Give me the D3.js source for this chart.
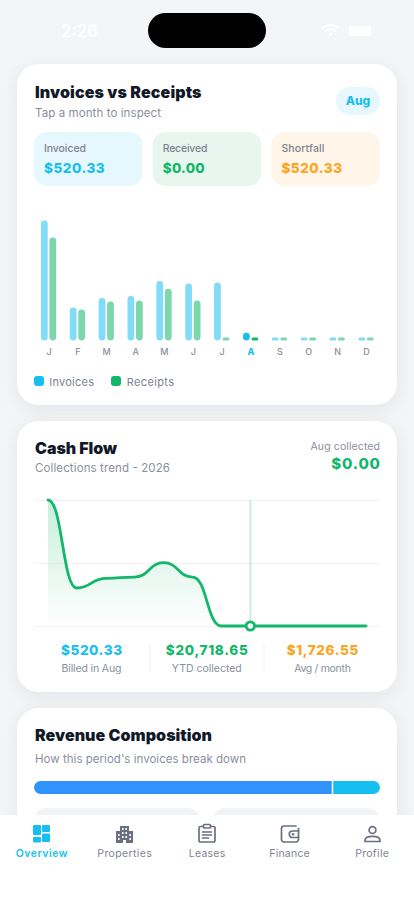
<!DOCTYPE html>
<html><head><meta charset="utf-8">
<script src="https://cdnjs.cloudflare.com/ajax/libs/d3/7.8.5/d3.min.js"></script>
<style>
html,body{margin:0;padding:0;background:#f4f5f7;overflow:hidden}
svg{display:block;font-family:Inter,"Noto Sans",sans-serif}
</style></head><body><svg id="c" width="414" height="900" viewBox="0 0 414 900"></svg>
<script>
const months = ["J","F","M","A","M","J","J","A","S","O","N","D"];
const invoices = [8155,2243,2888,3024,4044,3874,3942,520.33,0,0,0,0];
const receipts = [7000,2110,2650,2720,3520,2718.65,0,0,0,0,0,0];
const activeMonth = 7;
const kpiLabels = ["Invoiced","Received","Shortfall"];
const kpiValues = ["$520.33","$0.00","$520.33"];
const statValues = ["$520.33","$20,718.65","$1,726.55"];
const statLabels = ["Billed in Aug","YTD collected","Avg / month"];
const composition = [450,70.33];
const navLabels = ["Overview","Properties","Leases","Finance","Profile"];

const CYAN="#17bff0",GREEN="#12b76a",ORANGE="#fda41c",INK="#111827",MUTE="#8a8f9c";
const svg=d3.select("#c");
const defs=svg.append("defs");
const sh=defs.append("filter").attr("id","sh").attr("x","-20%").attr("y","-20%").attr("width","140%").attr("height","140%");
sh.append("feDropShadow").attr("dx",0).attr("dy",4).attr("stdDeviation",9).attr("flood-color","#1f2937").attr("flood-opacity",0.07);
const gr=defs.append("linearGradient").attr("id","ag").attr("x1",0).attr("y1",0).attr("x2",0).attr("y2",1);
gr.append("stop").attr("offset",0).attr("stop-color",GREEN).attr("stop-opacity",0.24);
gr.append("stop").attr("offset",1).attr("stop-color",GREEN).attr("stop-opacity",0);

function T(x,y,s,size,fill,weight,anchor,len){
  const t=svg.append("text").attr("x",x).attr("y",y).text(s).attr("font-size",size).attr("fill",fill)
    .attr("font-weight",weight||400).attr("text-anchor",anchor||"start");
  if(len) t.attr("textLength",len).attr("lengthAdjust","spacing");
  return t;
}
function card(y,h){svg.append("rect").attr("x",17).attr("y",y).attr("width",380).attr("height",h).attr("rx",22).attr("fill","#fff").attr("filter","url(#sh)");}

/* status bar */
T(61,37,"2:26",17,"#fff",500);
svg.append("rect").attr("x",148).attr("y",13).attr("width",118).attr("height",35).attr("rx",17.5).attr("fill","#000");
const wifi=svg.append("g").attr("fill","none").attr("stroke","#fff").attr("stroke-width",2);
wifi.append("path").attr("d","M322 28.5a12 12 0 0 1 17 0");
wifi.append("path").attr("d","M325 31.5a8 8 0 0 1 11 0");
svg.append("circle").attr("cx",330.5).attr("cy",34.5).attr("r",1.8).attr("fill","#fff");
svg.append("rect").attr("x",349).attr("y",26).attr("width",22).attr("height",10).attr("rx",3).attr("fill","#fff");

/* card 1 */
card(64,341);
T(35,97.5,"Invoices vs Receipts",16,INK,900,"start",166.5);
T(35,117,"Tap a month to inspect",11.5,MUTE,400,"start",126);
svg.append("rect").attr("x",336).attr("y",87).attr("width",44).attr("height",28).attr("rx",14).attr("fill","#e6f8fe");
T(358,105,"Aug",12,CYAN,800,"middle",24.5);
const kpiX=d3.scaleBand().domain(d3.range(3)).range([34,380]).paddingInner(0.085);
const kpiBg=["#e6f8fe","#e7f6ee","#fff6e9"],kpiFg=[CYAN,GREEN,ORANGE];
const kpiLabelW=[42,44.7,43],kpiValueW=[60.7,42,60.7];
kpiLabels.forEach((l,i)=>{
  const x=kpiX(i);
  svg.append("rect").attr("x",x).attr("y",132).attr("width",kpiX.bandwidth()).attr("height",54).attr("rx",13).attr("fill",kpiBg[i]);
  T(x+10,152,l,10.5,"#7d828e",500,"start",kpiLabelW[i]);
  T(x+10,172.5,kpiValues[i],13.5,kpiFg[i],800,"start",kpiValueW[i]);
});

const xM=d3.scalePoint().domain(d3.range(12)).range([48.5,366]);
const yB=d3.scaleLinear().domain([0,8155]).range([340.5,220.5]);
const barW=6.8,minH=3;
function bars(vals,color,off){
  svg.append("g").selectAll("rect").data(vals).join("rect")
    .attr("x",(d,i)=>xM(i)+off).attr("width",barW)
    .attr("y",d=>Math.min(yB(d),yB(0)-minH))
    .attr("height",d=>Math.max(yB(0)-yB(d),minH))
    .attr("rx",d=>Math.min(barW/2,Math.max(yB(0)-yB(d),minH)/2))
    .attr("fill",color).attr("opacity",(d,i)=>i===activeMonth?1:0.55);
}
bars(invoices,CYAN,-7.6);
bars(receipts,GREEN,0.9);
const mAxis=svg.append("g").attr("transform","translate(0,340.5)")
  .call(d3.axisBottom(xM).tickSize(0).tickPadding(8.5).tickFormat(i=>months[i]));
mAxis.select(".domain").remove();
mAxis.selectAll("text").attr("font-family","Inter").attr("font-size",9)
  .attr("fill",(i)=>i===activeMonth?CYAN:MUTE).attr("font-weight",(i)=>i===activeMonth?800:500);

[["Invoices",CYAN,34,49.3,44.7],["Receipts",GREEN,111,126.7,47.3]].forEach(([l,c,sx,tx,w])=>{
  svg.append("rect").attr("x",sx).attr("y",376).attr("width",10).attr("height",10).attr("rx",3).attr("fill",c);
  T(tx,385.5,l,11,"#7d828e",400,"start",w);
});

/* card 2 */
card(421,271);
T(35,454,"Cash Flow",16,INK,900,"start",82);
T(35,472,"Collections trend - 2026",11.5,MUTE,400,"start",135);
T(380,450,"Aug collected",10.5,MUTE,400,"end",69.5);
T(380,468.5,"$0.00",15,GREEN,800,"end",48.7);
const yL=d3.scaleLinear().domain([0,7000]).range([626,500]);
const xL=d3.scalePoint().domain(d3.range(12)).range([48,366]);
const gridAxis=svg.append("g").attr("transform","translate(34,0)")
  .call(d3.axisLeft(yL).tickValues([0,3500,7000]).tickSize(-346).tickFormat(""));
gridAxis.select(".domain").remove();
gridAxis.selectAll("line").attr("stroke","#f2f3f5").attr("stroke-width",1);
const area=d3.area().x((d,i)=>xL(i)).y0(yL(0)).y1(d=>yL(d)).curve(d3.curveBumpX);
const line=d3.line().x((d,i)=>xL(i)).y(d=>yL(d)).curve(d3.curveBumpX);
svg.append("path").datum(receipts).attr("d",area).attr("fill","url(#ag)");
svg.append("line").attr("x1",xL(activeMonth)).attr("x2",xL(activeMonth)).attr("y1",500).attr("y2",626)
  .attr("stroke",GREEN).attr("stroke-opacity",0.24).attr("stroke-width",1.8);
svg.append("path").datum(receipts).attr("d",line).attr("fill","none").attr("stroke",GREEN).attr("stroke-width",2.8).attr("stroke-linecap","round");
svg.append("circle").attr("cx",xL(activeMonth)).attr("cy",yL(receipts[activeMonth])).attr("r",4.2).attr("fill","#fff").attr("stroke",GREEN).attr("stroke-width",2.8);
const statX=[91.5,206.8,322.5],statC=[CYAN,GREEN,ORANGE],statW=[61,82,71.6],statLW=[60,70,56.7];
statValues.forEach((v,i)=>{
  T(statX[i],655,v,13.5,statC[i],800,"middle",statW[i]);
  T(statX[i],672,statLabels[i],10.5,MUTE,400,"middle",statLW[i]);
});
[150,264].forEach(x=>svg.append("line").attr("x1",x).attr("x2",x).attr("y1",644).attr("y2",672).attr("stroke","#eff0f2"));

/* card 3 */
card(708,300);
T(35,741,"Revenue Composition",16,INK,900,"start",177);
T(35,763,"How this period's invoices break down",11.5,MUTE,400,"start",211);
const xC=d3.scaleLinear().domain([0,d3.sum(composition)]).range([34,380]);
defs.append("clipPath").attr("id","cb").append("rect").attr("x",34).attr("y",781).attr("width",346).attr("height",13).attr("rx",6.5);
svg.append("g").attr("clip-path","url(#cb)").selectAll("rect").data(composition).join("rect")
  .attr("x",(d,i)=>xC(d3.sum(composition.slice(0,i))))
  .attr("y",781).attr("height",13)
  .attr("width",(d,i)=>xC(d)-xC(0)-(i===0?1.5:0))
  .attr("fill",(d,i)=>i===0?"#2f93fb":CYAN);
[[34,166],[213,167]].forEach(([x,w])=>svg.append("rect").attr("x",x).attr("y",808).attr("width",w).attr("height",50).attr("rx",12).attr("fill","#f2f3f5"));

/* nav */
svg.append("rect").attr("x",0).attr("y",815).attr("width",414).attr("height",85).attr("fill","#fff");
const navX=[41.7,124.5,207,289.5,372],navW=[52,54.4,36.6,40.4,33.7];
navLabels.forEach((l,i)=>T(navX[i],856.5,l,10.5,i===0?CYAN:"#7f8490",i===0?600:400,"middle",navW[i]));
const ICON="#6b7080";
[[33,825,8,10],[33,837,8,5.5],[42,825,8,7],[42,833.5,8,8.5]].forEach(r=>
  svg.append("rect").attr("x",r[0]).attr("y",r[1]).attr("width",r[2]).attr("height",r[3]).attr("rx",1).attr("fill",CYAN));
svg.append("path").attr("fill",ICON).attr("fill-rule","evenodd")
  .attr("d","M120 826h9v5h4v12h-17v-12h4zM122 828v2h1.6v-2zM125.4 828v2h1.6v-2zM122 832v2h1.6v-2zM125.4 832v2h1.6v-2zM118 834v2h1.6v-2zM129.4 834v2h1.6v-2zM122 836v2h1.6v-2zM125.4 836v2h1.6v-2zM118 838v2h1.6v-2zM129.4 838v2h1.6v-2zM123 840v3h3v-3z");
const st=()=>svg.append("g").attr("fill","none").attr("stroke",ICON).attr("stroke-width",1.7).attr("stroke-linecap","round").attr("stroke-linejoin","round");
const cl=st();
cl.append("path").attr("d","M203 826.5h-2.5a1.5 1.5 0 0 0-1.5 1.5v12.5a1.5 1.5 0 0 0 1.5 1.5h13a1.5 1.5 0 0 0 1.5-1.5V828a1.5 1.5 0 0 0-1.5-1.5H211");
cl.append("rect").attr("x",203.5).attr("y",824.5).attr("width",7).attr("height",3.5).attr("rx",0.8);
cl.append("path").attr("d","M202.5 832h9M202.5 835h9M202.5 838h6");
const wa=st();
wa.append("path").attr("d","M296 826H284a2.5 2.5 0 0 0-2.5 2.5v11a2.5 2.5 0 0 0 2.5 2.5h12a2.5 2.5 0 0 0 2.5-2.5v-11");
wa.append("path").attr("d","M298.5 831h-6a2.8 2.8 0 0 0 0 6.5h6");
svg.append("circle").attr("cx",293).attr("cy",834.2).attr("r",1.2).attr("fill",ICON);
const pr=st();
pr.append("circle").attr("cx",372.5).attr("cy",830).attr("r",3.4);
pr.append("path").attr("d","M365 841.5v-1.2c0-2.4 3-4 7.5-4s7.5 1.6 7.5 4v1.2z");
</script></body></html>
